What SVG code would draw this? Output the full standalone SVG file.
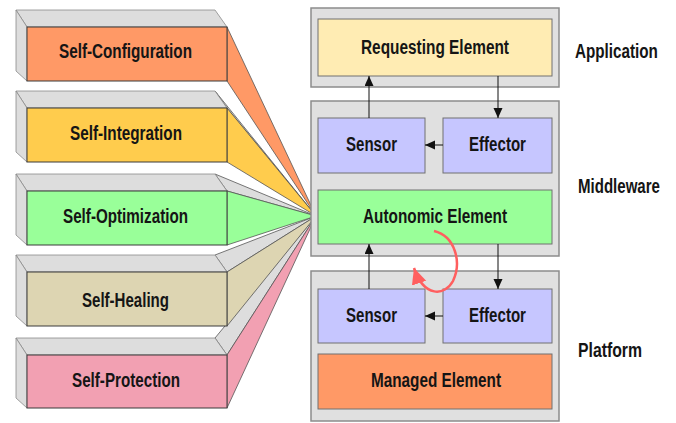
<svg xmlns="http://www.w3.org/2000/svg" width="676" height="423" viewBox="0 0 676 423">
<defs>
<style>
.t{font-family:"Liberation Sans",Arial,sans-serif;font-weight:bold;font-size:20px;fill:#151515}
.top{fill:#dddddd;stroke:#8a8a8a;stroke-width:0.8}
.side{fill:#dddddd;stroke:#8a8a8a;stroke-width:0.8}
.face{stroke:#3a3a3a;stroke-width:1}
.fan{stroke:#555;stroke-width:0.8;stroke-linejoin:round}
.cont{fill:#e0e0e0;stroke:#8c8c8c;stroke-width:1.5}
.box{stroke:#707070;stroke-width:1}
.lav{fill:#c6c6ff}
.ln{stroke:#111;stroke-width:1;fill:none;marker-end:url(#ah)}
</style>
<marker id="ah" markerUnits="userSpaceOnUse" markerWidth="10" markerHeight="10" refX="10" refY="4.5" orient="auto">
<path d="M0,0 L10,4.5 L0,9 z" fill="#111"/>
</marker>
<marker id="rh" markerUnits="userSpaceOnUse" markerWidth="18" markerHeight="16" refX="16" refY="7.5" orient="auto">
<path d="M0,0 L16,7.5 L0,15 z" fill="#ff5f5f"/>
</marker>
</defs>
<rect width="676" height="423" fill="#ffffff"/>

<g id="connectors">
<polygon class="fan" points="227,27 227,81 316,216" fill="#ff9966"/>
<polygon class="fan" points="215,338 227,355 316,216" fill="#dddddd"/>
<polygon class="fan" points="227,355 227,408 316,216" fill="#f2a0b2"/>
<polygon class="fan" points="215,91 227,108 316,216" fill="#dddddd"/>
<polygon class="fan" points="227,108 227,162 316,216" fill="#ffcc4d"/>
<polygon class="fan" points="215,255 227,272 316,216" fill="#dddddd"/>
<polygon class="fan" points="227,272 227,326 316,216" fill="#ddd5b2"/>
<polygon class="fan" points="215,174 227,191 316,216" fill="#dddddd"/>
<polygon class="fan" points="227,191 227,245 316,216" fill="#99ff99"/>
</g>

<g id="self-configuration">
<polygon class="top" points="16,10 215,10 227,27 27,27"/>
<polygon class="side" points="16,10 27,27 27,81 16,71"/>
<rect class="face" x="27" y="27" width="200" height="54" fill="#ff9966"/>
<text class="t" x="59" y="58" textLength="133" lengthAdjust="spacingAndGlyphs">Self-Configuration</text>
</g>
<g id="self-integration">
<polygon class="top" points="16,91 215,91 227,108 27,108"/>
<polygon class="side" points="16,91 27,108 27,162 16,152"/>
<rect class="face" x="27" y="108" width="200" height="54" fill="#ffcc4d"/>
<text class="t" x="70" y="140" textLength="112" lengthAdjust="spacingAndGlyphs">Self-Integration</text>
</g>
<g id="self-optimization">
<polygon class="top" points="16,174 215,174 227,191 27,191"/>
<polygon class="side" points="16,174 27,191 27,245 16,235"/>
<rect class="face" x="27" y="191" width="200" height="54" fill="#99ff99"/>
<text class="t" x="63" y="223" textLength="125" lengthAdjust="spacingAndGlyphs">Self-Optimization</text>
</g>
<g id="self-healing">
<polygon class="top" points="16,255 215,255 227,272 27,272"/>
<polygon class="side" points="16,255 27,272 27,326 16,316"/>
<rect class="face" x="27" y="272" width="200" height="54" fill="#ddd5b2"/>
<text class="t" x="82" y="307" textLength="87" lengthAdjust="spacingAndGlyphs">Self-Healing</text>
</g>
<g id="self-protection">
<polygon class="top" points="16,338 215,338 227,355 27,355"/>
<polygon class="side" points="16,338 27,355 27,408 16,398"/>
<rect class="face" x="27" y="355" width="200" height="53" fill="#f2a0b2"/>
<text class="t" x="72" y="387" textLength="108" lengthAdjust="spacingAndGlyphs">Self-Protection</text>
</g>

<g id="application-layer">
<rect class="cont" x="311" y="8" width="248" height="79"/>
</g>
<g id="middleware-layer">
<rect class="cont" x="311" y="101" width="248" height="155"/>
</g>
<g id="platform-layer">
<rect class="cont" x="311" y="271" width="248" height="150"/>
</g>

<g id="requesting-element">
<rect class="box" x="318" y="19" width="234" height="57" fill="#ffecb3"/>
<text class="t" x="361" y="54" textLength="148" lengthAdjust="spacingAndGlyphs">Requesting Element</text>
</g>
<g id="mw-sensor">
<rect class="box lav" x="318" y="118" width="107" height="55"/>
<text class="t" x="346" y="151" textLength="51" lengthAdjust="spacingAndGlyphs">Sensor</text>
</g>
<g id="mw-effector">
<rect class="box lav" x="443" y="118" width="109" height="55"/>
<text class="t" x="469" y="151" textLength="57" lengthAdjust="spacingAndGlyphs">Effector</text>
</g>
<g id="autonomic-element">
<rect class="box" x="318" y="190" width="234" height="54" fill="#99ff99"/>
<text class="t" x="363" y="223" textLength="144" lengthAdjust="spacingAndGlyphs">Autonomic Element</text>
</g>
<g id="pf-sensor">
<rect class="box lav" x="318" y="289" width="107" height="54"/>
<text class="t" x="346" y="322" textLength="51" lengthAdjust="spacingAndGlyphs">Sensor</text>
</g>
<g id="pf-effector">
<rect class="box lav" x="443" y="289" width="109" height="54"/>
<text class="t" x="469" y="322" textLength="57" lengthAdjust="spacingAndGlyphs">Effector</text>
</g>
<g id="managed-element">
<rect class="box" x="318" y="354" width="234" height="55" fill="#ff9966"/>
<text class="t" x="371" y="387" textLength="130" lengthAdjust="spacingAndGlyphs">Managed Element</text>
</g>

<g id="layer-labels">
<text class="t" transform="translate(575,58) scale(0.762,1)" x="0" y="0">Application</text>
<text class="t" transform="translate(578,193) scale(0.753,1)" x="0" y="0">Middleware</text>
<text class="t" transform="translate(578,357) scale(0.79,1)" x="0" y="0">Platform</text>
</g>

<g id="arrows">
<line class="ln" x1="369" y1="118" x2="369" y2="76"/>
<line class="ln" x1="498" y1="76" x2="498" y2="118"/>
<line class="ln" x1="443" y1="145" x2="425" y2="145"/>
<line class="ln" x1="369" y1="289" x2="369" y2="244"/>
<line class="ln" x1="498" y1="244" x2="498" y2="289"/>
<line class="ln" x1="443" y1="316" x2="425" y2="316"/>
<path d="M434,231 C455,236 462,262 453,281 C445,296 424,298 414,268" fill="none" stroke="#ff5f5f" stroke-width="2.5" marker-end="url(#rh)"/>
</g>
</svg>
